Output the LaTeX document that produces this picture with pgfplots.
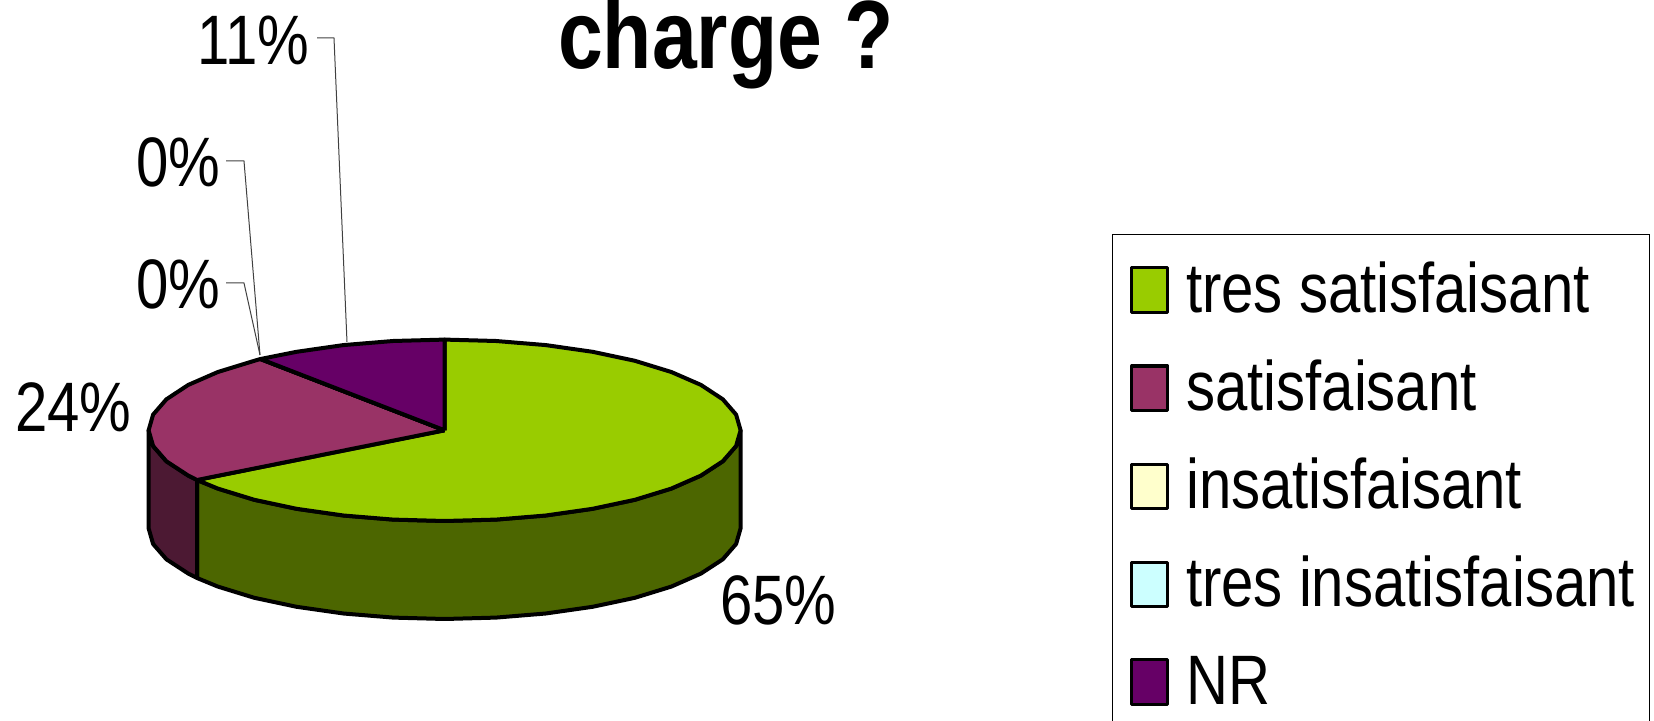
\documentclass[border=0pt]{standalone}
\usepackage{fontspec}
\setmainfont[FakeStretch=0.83]{Liberation Sans}
\usepackage{pgfplots}
\pgfplotsset{compat=1.18}
\definecolor{pgreen}{HTML}{99CC00}
\definecolor{dgreen}{HTML}{4C6600}
\definecolor{pmag}{HTML}{993366}
\definecolor{dmag}{HTML}{4C1933}
\definecolor{ppur}{HTML}{660066}
\definecolor{pcream}{HTML}{FFFFCC}
\definecolor{pcyan}{HTML}{CCFFFF}
\newcommand{\lab}{\fontsize{70}{84}\selectfont}
\begin{document}
\begin{tikzpicture}
\useasboundingbox (0,0) rectangle (1654pt,720pt);
\clip (0,0) rectangle (1654pt,720pt);
\begin{axis}[
  at={(0,0)},anchor=south west,
  scale only axis,width=1654pt,height=720pt,
  xmin=0,xmax=1654,ymin=0,ymax=720,
  hide axis,clip=false,
  legend image code/.code={\path (0pt,0pt) (54.6pt,0pt);\draw[#1,line width=3pt] (2.2pt,-24pt) rectangle (38.2pt,20pt);},
  legend cell align=left,
  legend style={
    at={(axis cs:1112,486)},anchor=north west,
    draw=black,line width=1pt,
    font=\lab,
    inner xsep=15pt,inner ysep=28pt,
    row sep=47pt,
    nodes={inner sep=0pt,text height=50pt,text depth=1pt},
  },
  every axis plot/.append style={line join=round},
]
% side faces
\addplot[forget plot,fill=dgreen,draw=black,line width=4pt] coordinates {
 (740.6,289.7)(736.1,274.0)(722.8,258.7)(700.9,244.4)(671.3,231.4)(634.9,220.2)(592.6,211.2)(545.8,204.5)(496.0,200.4)(444.6,199.0)(393.2,200.4)(343.4,204.5)(296.6,211.2)(254.3,220.2)(217.9,231.4)(197,240)
 (197,142)(217.9,133.4)(254.3,122.2)(296.6,113.2)(343.4,106.5)(393.2,102.4)(444.6,101)(496,102.4)(545.8,106.5)(592.6,113.2)(634.9,122.2)(671.3,133.4)(700.9,146.4)(722.8,160.7)(736.1,176)(740.6,191.7)(740.6,289.7)};
\addplot[forget plot,fill=dmag,draw=black,line width=4pt] coordinates {
 (197,240)(188.3,244.4)(166.4,258.7)(153.1,274.0)(148.6,289.7)
 (148.6,191.7)(153.1,176)(166.4,160.7)(188.3,146.4)(197,142)(197,240)};
% top slices
\addplot[fill=pgreen,draw=black,line width=4pt] coordinates {
 (444.6,289.7)(444.6,380.4)(496.0,379.0)(545.8,374.9)(592.6,368.2)(634.9,359.2)(671.3,348.0)(700.9,335.1)(722.8,320.7)(736.1,305.4)(740.6,289.7)(736.1,274.0)(722.8,258.7)(700.9,244.4)(671.3,231.4)(634.9,220.2)(592.6,211.2)(545.8,204.5)(496.0,200.4)(444.6,199.0)(393.2,200.4)(343.4,204.5)(296.6,211.2)(254.3,220.2)(217.9,231.4)(197,240)(444.6,289.7)};
\addlegendentry{tres satisfaisant}
\addplot[fill=pmag,draw=black,line width=4pt] coordinates {
 (444.6,289.7)(197,240)(188.3,244.4)(166.4,258.7)(153.1,274.0)(148.6,289.7)(153.1,305.4)(166.4,320.7)(188.3,335.1)(217.9,348.0)(254.3,359.2)(260.5,361)(444.6,289.7)};
\addlegendentry{satisfaisant}
\addplot[fill=pcream,draw=black,line width=4pt] coordinates {(444.6,289.7)(260.5,361)};
\addlegendentry{insatisfaisant}
\addplot[fill=pcyan,draw=black,line width=4pt] coordinates {(444.6,289.7)(260.5,361)};
\addlegendentry{tres insatisfaisant}
\addplot[fill=ppur,draw=black,line width=4pt] coordinates {
 (444.6,289.7)(260.5,361)(296.6,368.2)(343.4,374.9)(393.2,379.0)(444.6,380.4)(444.6,289.7)};
\addlegendentry{NR}
% leader lines
\addplot[forget plot,draw=black!75,line width=1pt] coordinates {(317,682)(334,682)(347,378)};
\addplot[forget plot,draw=black!75,line width=1pt] coordinates {(226,559)(244,559)(260,365)};
\addplot[forget plot,draw=black!75,line width=1pt] coordinates {(226,437)(244,437)(260,365)};
% labels
\node[anchor=base west,inner sep=0pt,font=\lab] at (axis cs:197,655) {11\%};
\node[anchor=base west,inner sep=0pt,font=\lab] at (axis cs:136,533) {0\%};
\node[anchor=base west,inner sep=0pt,font=\lab] at (axis cs:136,411) {0\%};
\node[anchor=base west,inner sep=0pt,font=\lab] at (axis cs:15,288) {24\%};
\node[anchor=base west,inner sep=0pt,font=\lab] at (axis cs:720,95) {65\%};
\node[anchor=base west,inner sep=0pt,font=\fontsize{97}{110}\selectfont\bfseries] at (axis cs:558,651) {charge ?};
\end{axis}
\end{tikzpicture}
\end{document}
